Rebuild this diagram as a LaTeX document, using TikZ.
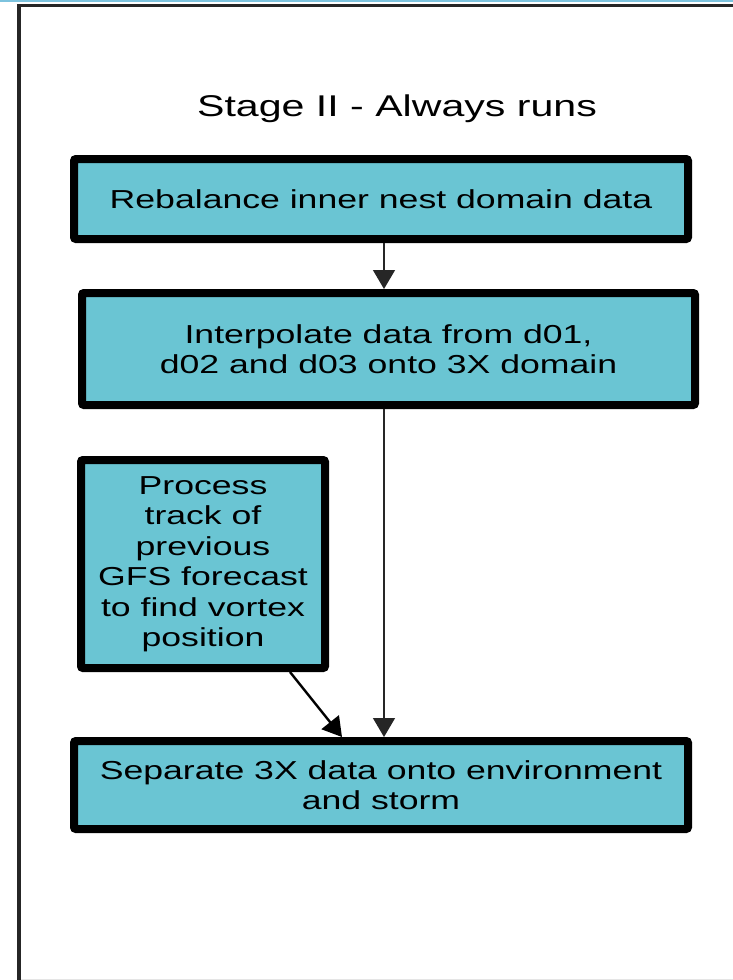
\documentclass[tikz,border=0pt]{standalone}
\usepackage{fontspec}
\setmainfont[FakeStretch=1.37]{Liberation Sans}
\usetikzlibrary{arrows.meta}
\definecolor{boxfill}{RGB}{106,197,211}
\definecolor{topline}{RGB}{125,195,222}
\tikzset{
  stepbox/.style={draw=black, line width=8pt, fill=boxfill, rounded corners=2pt,
    inner sep=0pt, align=center, font=\fontsize{26pt}{30.5pt}\selectfont},
  arr/.style={draw=black!85, line width=1.4pt, -{Triangle[width=22pt,length=19pt]}},
}
\begin{document}
\begin{tikzpicture}[x=1pt,y=-1pt]
\useasboundingbox (0,0) rectangle (733,980);
\fill[white] (0,0) rectangle (733,980);
\draw[topline, line width=2pt] (0,1) -- (733,1);
\draw[black!10, line width=1pt] (21,979.5) -- (733,979.5);
\draw[black!85, line width=3.5pt] (19,990) -- (19,5.5) -- (745,5.5);

\node[anchor=base, font=\fontsize{30pt}{34pt}\selectfont] (title) at (397,116) {Stage II - Always runs};

\node[stepbox, minimum width=614pt, minimum height=80pt] (b1) at (381,199)
  {Rebalance inner nest domain data};
\node[stepbox, minimum width=613pt, minimum height=112pt] (b2) at (388.5,349)
  {Interpolate data from d01,\\ d02 and d03 onto 3X domain};
\node[stepbox, minimum width=244pt, minimum height=208pt] (b3) at (203,564)
  {Process\\ track of\\ previous\\ GFS forecast\\ to find vortex\\ position};
\node[stepbox, minimum width=614pt, minimum height=88pt] (b4) at (381,785)
  {Separate 3X data onto environment\\ and storm};

\draw[arr] (b1.south -| 384,0) -- (b2.north -| 384,0);
\draw[arr] (b2.south -| 384,0) -- (b4.north -| 384,0);
\draw[arr, line width=2.4pt, draw=black] (b3.south -| 290,0) -- (b4.north -| 342,0);
\end{tikzpicture}
\end{document}
